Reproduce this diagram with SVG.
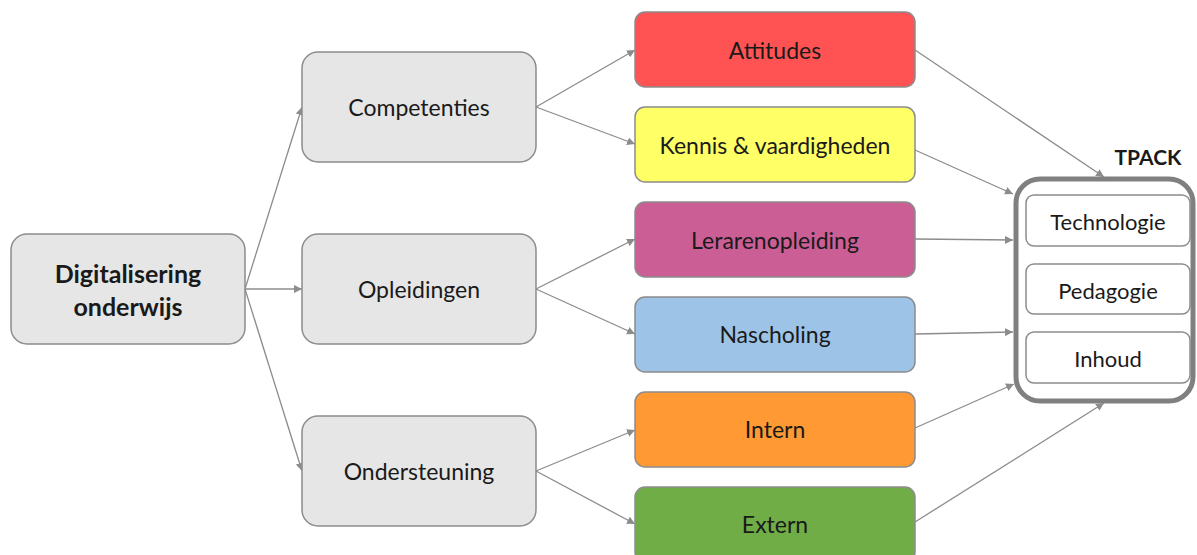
<svg xmlns="http://www.w3.org/2000/svg" width="1197" height="555" viewBox="0 0 1197 555">
<style>
.g{fill:#e6e6e6;stroke:#8c8c8c;stroke-width:1.5}
.c{stroke:#8c8c8c;stroke-width:1.5}
.w{fill:#fff;stroke:#8c8c8c;stroke-width:1.5}
text{font-family:Lato,"Open Sans","Liberation Sans",sans-serif;font-size:23px;fill:#1a1a1a;text-anchor:middle;dominant-baseline:central}
.b{font-weight:bold;font-size:25px}
.t{font-weight:bold;font-size:21px}
.s{font-size:22px}
.ln{stroke:#8c8c8c;stroke-width:1.3;fill:none;marker-end:url(#ah)}
</style>
<defs>
<marker id="ah" viewBox="0 0 10 10" refX="10" refY="5" markerWidth="8" markerHeight="8" markerUnits="userSpaceOnUse" orient="auto">
<path d="M0,0 L10,5 L0,10 z" fill="#8c8c8c"/>
</marker>
</defs>
<g id="connectors">
<path class="ln" d="M245,289 L302,107"/>
<path class="ln" d="M245,289 L302,289"/>
<path class="ln" d="M245,289 L302,471"/>
<path class="ln" d="M536,107 L635,50"/>
<path class="ln" d="M536,107 L635,144"/>
<path class="ln" d="M536,289 L635,239"/>
<path class="ln" d="M536,289 L635,334"/>
<path class="ln" d="M536,471 L635,430"/>
<path class="ln" d="M536,471 L635,524"/>
<path class="ln" d="M915,50 L1104,177"/>
<path class="ln" d="M915,150 L1013,194"/>
<path class="ln" d="M915,239 L1013,240"/>
<path class="ln" d="M915,334 L1013,332"/>
<path class="ln" d="M915,428 L1014,384"/>
<path class="ln" d="M915,522 L1104,403"/>
</g>
<g id="root"><rect class="g" x="11" y="234" width="234" height="110" rx="16"/><text class="b" x="128" y="273">Digitalisering</text><text class="b" x="128" y="306">onderwijs</text></g>
<g id="competenties"><rect class="g" x="302" y="52" width="234" height="110" rx="16"/><text x="419" y="107">Competenties</text></g>
<g id="opleidingen"><rect class="g" x="302" y="234" width="234" height="110" rx="16"/><text x="419" y="289">Opleidingen</text></g>
<g id="ondersteuning"><rect class="g" x="302" y="416" width="234" height="110" rx="16"/><text x="419" y="471">Ondersteuning</text></g>
<g id="attitudes"><rect class="c" fill="#ff5353" x="635" y="12" width="280" height="75" rx="10"/><text x="775" y="50">Attitudes</text></g>
<g id="kennis"><rect class="c" fill="#ffff66" x="635" y="107" width="280" height="75" rx="10"/><text x="775" y="145">Kennis &amp; vaardigheden</text></g>
<g id="lerarenopleiding"><rect class="c" fill="#cc5e96" x="635" y="202" width="280" height="75" rx="10"/><text x="775" y="240">Lerarenopleiding</text></g>
<g id="nascholing"><rect class="c" fill="#9dc3e6" x="635" y="297" width="280" height="75" rx="10"/><text x="775" y="334">Nascholing</text></g>
<g id="intern"><rect class="c" fill="#ff9933" x="635" y="392" width="280" height="75" rx="10"/><text x="775" y="429">Intern</text></g>
<g id="extern"><rect class="c" fill="#70ad47" x="635" y="487" width="280" height="75" rx="10"/><text x="775" y="524">Extern</text></g>
<g id="tpack">
<text class="t" x="1148" y="156">TPACK</text>
<rect x="1016" y="179" width="177" height="222" rx="24" fill="#fff" stroke="#808080" stroke-width="5"/>
<rect class="w" x="1026" y="195" width="164" height="51" rx="8"/><text class="s" x="1108" y="221">Technologie</text>
<rect class="w" x="1026" y="264" width="164" height="50" rx="8"/><text class="s" x="1108" y="290">Pedagogie</text>
<rect class="w" x="1026" y="332" width="164" height="51" rx="8"/><text class="s" x="1108" y="358">Inhoud</text>
</g>
</svg>
